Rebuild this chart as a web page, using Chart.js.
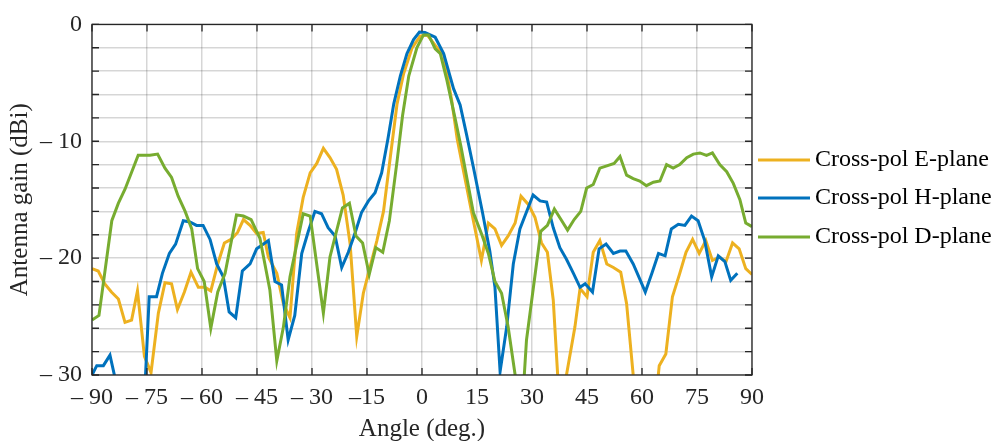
<!DOCTYPE html>
<html>
<head>
<meta charset="utf-8">
<script src="https://cdn.jsdelivr.net/npm/chart.js@4.4.1/dist/chart.umd.min.js"></script>
<style>
  body { margin: 0; background: #fff; }
  #wrap { width: 993px; height: 441px; }
</style>
</head>
<body>
<div id="wrap"><canvas id="myChart"></canvas></div>
<script>
// Cross-pol E-plane
eAng = [-90, -88.3, -86.5, -84.7, -82.8, -81.0, -79.2, -77.6, -75.7, -73.9, -71.9, -70.1, -68.3, -66.7, -64.8, -63.0, -61.0, -59.2, -57.6, -55.7,
    -53.9, -52.1, -50.3, -48.7, -46.9, -45.1, -43.3, -41.9, -39.6, -37.8, -36.0, -34.2, -32.4, -30.5, -28.7, -26.9, -25.1, -23.3, -21.5, -19.6,
    -17.8, -16.0, -14.2, -12.3, -10.5, -8.7, -6.8, -5.0, -2.7, -0.5, 1.4, 4.1, 5.9, 8.1, 9.6, 13.5, 16.2, 18.1, 19.9, 21.7,
    23.5, 25.4, 27.0, 29.0, 30.8, 32.6, 34.2, 35.8, 37.0, 38.2, 39.4, 41.7, 43.1, 45.0, 46.7, 48.5, 50.4, 52.2, 54.2, 55.8,
    57.6, 59.0, 63.5, 64.7, 66.5, 68.3, 70.3, 72.0, 73.8, 75.6, 77.4, 79.2, 81.1, 82.9, 84.7, 86.5, 88.3, 90];
eGain = [-20.9, -21.1, -22.2, -22.9, -23.5, -25.5, -25.3, -22.8, -28.4, -29.8, -24.7, -22.1, -22.2, -24.4, -22.9, -21.2, -22.5, -22.5, -22.8, -20.5,
    -18.7, -18.4, -17.8, -16.7, -17.2, -17.9, -17.8, -19.9, -21.3, -23.9, -25.1, -17.9, -14.8, -12.7, -11.9, -10.6, -11.4, -12.4, -14.6, -18.8,
    -26.7, -23.0, -20.8, -18.5, -16.0, -11.5, -6.8, -4.2, -2.0, -1.0, -0.9, -2.0, -2.6, -6.5, -9.8, -16.0, -20.2, -17.0, -17.5, -18.9,
    -18.1, -17.0, -14.7, -15.4, -16.5, -18.7, -19.5, -23.6, -30.0, -32.0, -30.0, -25.9, -22.6, -23.3, -19.5, -18.5, -20.5, -20.8, -21.2, -23.9,
    -30.0, -33.0, -33.0, -29.2, -28.2, -23.3, -21.3, -19.5, -18.4, -19.6, -18.5, -20.2, -19.9, -20.3, -18.7, -19.2, -20.9, -21.4];

// Cross-pol H-plane
hAng = [-90, -88.7, -86.9, -85.1, -83.9, -83.0, -76.0, -75.4, -74.4, -72.4, -70.8, -68.9, -67.2, -65.1, -63.3, -61.5, -59.7, -57.8, -56.0, -54.2,
    -52.6, -50.8, -49.0, -46.9, -45.1, -44.2, -41.9, -40.1, -38.3, -36.5, -34.7, -32.8, -31.0, -29.2, -27.4, -25.6, -23.7, -21.9, -20.1, -18.3,
    -16.5, -14.6, -12.8, -11.0, -9.3, -7.7, -5.9, -4.1, -2.3, -0.7, 0.8, 3.6, 5.9, 8.6, 10.4, 12.2, 14.0, 16.5, 18.5, 19.9,
    21.3, 23.1, 24.9, 26.7, 30.3, 32.2, 34.0, 35.8, 37.6, 39.4, 41.3, 43.1, 44.5, 46.5, 48.3, 50.2, 52.2, 54.0, 55.6, 57.6,
    59.4, 60.9, 62.7, 64.5, 66.3, 68.0, 69.9, 71.7, 73.5, 75.3, 77.1, 79.0, 80.8, 82.6, 84.2, 86.0];
hGain = [-30.0, -29.2, -29.2, -28.3, -30.0, -33.0, -33.0, -30.0, -23.3, -23.3, -21.3, -19.6, -18.8, -16.8, -16.9, -17.2, -17.2, -18.4, -20.5, -21.6,
    -24.6, -25.1, -21.1, -20.5, -19.2, -19.0, -18.5, -22.0, -22.3, -27.0, -24.9, -19.6, -17.7, -16.0, -16.2, -17.4, -18.1, -20.8, -19.5, -17.9,
    -16.1, -15.1, -14.4, -12.7, -9.8, -6.8, -4.4, -2.5, -1.3, -0.65, -0.7, -1.1, -2.5, -5.5, -6.9, -9.5, -12.2, -16.1, -19.4, -22.5,
    -29.7, -25.9, -20.5, -17.5, -14.6, -15.1, -15.2, -17.4, -19.1, -20.1, -21.3, -22.5, -22.2, -22.9, -19.2, -18.8, -19.6, -19.4, -19.4, -20.5,
    -21.8, -22.9, -21.3, -19.6, -19.8, -17.5, -17.1, -17.2, -16.4, -16.8, -18.5, -21.6, -19.8, -20.3, -21.9, -21.3];

// Cross-pol D-plane
dAng = [-90, -88.1, -84.6, -82.8, -81.0, -77.4, -74.2, -72.1, -70.1, -68.3, -66.5, -64.6, -62.8, -61.2, -59.4, -57.6, -55.7, -53.7, -50.6, -48.7,
    -46.6, -44.2, -41.5, -39.6, -37.8, -36.0, -32.4, -30.5, -26.9, -25.1, -21.7, -19.8, -18.0, -16.2, -14.4, -12.6, -10.7, -8.9, -6.8, -5.3,
    -3.6, -1.4, 0.4, 1.8, 3.6, 5.0, 6.8, 9.0, 10.6, 14.0, 16.2, 18.1, 19.9, 21.7, 23.5, 25.4, 26.6, 27.9, 28.5, 30.3,
    32.4, 34.2, 36.1, 37.9, 39.7, 41.5, 43.3, 44.9, 46.7, 48.5, 50.4, 52.4, 54.0, 55.8, 57.6, 59.4, 61.2, 63.1, 64.9, 66.7,
    68.5, 70.3, 72.2, 74.0, 75.8, 77.6, 79.2, 81.2, 83.1, 84.9, 86.7, 88.3, 90];
dGain = [-25.3, -24.9, -16.8, -15.3, -14.1, -11.2, -11.2, -11.1, -12.3, -13.1, -14.7, -16.0, -17.5, -20.9, -22.0, -26.0, -22.9, -21.3, -16.3, -16.4,
    -16.7, -18.3, -22.7, -28.8, -25.9, -21.6, -16.2, -16.4, -24.7, -19.9, -15.7, -15.3, -18.1, -18.7, -21.4, -19.1, -19.5, -16.8, -11.7, -7.8,
    -4.4, -2.0, -0.9, -0.9, -2.1, -2.5, -4.8, -8.0, -10.4, -16.1, -17.9, -19.6, -22.0, -23.0, -25.9, -30.0, -33.0, -30.0, -27.0, -22.7,
    -17.7, -17.2, -15.8, -16.7, -17.6, -16.7, -16.0, -14.0, -13.7, -12.3, -12.1, -11.9, -11.3, -12.9, -13.2, -13.4, -13.8, -13.5, -13.4, -12.0,
    -12.3, -12.0, -11.4, -11.1, -11.0, -11.2, -11.0, -12.0, -12.6, -13.6, -15.0, -17.0, -17.3];

labels_ls = ['Cross-pol E-plane', 'Cross-pol H-plane', 'Cross-pol D-plane'];
corlor_ls = ['#EDB120', '#0072BD', '#77AC30'];
xtick_ls = { '-90': '\u2013 90', '-75': '\u2013 75', '-60': '\u2013 60', '-45': '\u2013 45', '-30': '\u2013 30', '-15': '\u201315' };
ytick_ls = { '0': '0', '-10': '\u2013 10', '-20': '\u2013 20', '-30': '\u2013 30' };

function toXY(a, g) {
    return a.map((x, i) => ({ x: x, y: g[i] }));
}

var fontFam = "'Liberation Serif', 'Times New Roman', serif";
var txtColor = '#262626';

// box round the plot, inward ticks, legend at the right
var boxPlugin = {
    id: 'box',
    afterDraw(chart) {
        var ctx = chart.ctx, a = chart.chartArea;
        var xs = chart.scales.x, ys = chart.scales.y;
        ctx.save();
        ctx.strokeStyle = txtColor;
        ctx.lineWidth = 1.3;
        ctx.beginPath();
        xs.ticks.forEach(t => {
            var px = xs.getPixelForValue(t.value);
            ctx.moveTo(px, a.top); ctx.lineTo(px, a.top + 7);
            ctx.moveTo(px, a.bottom); ctx.lineTo(px, a.bottom - 7);
        });
        ys.ticks.forEach(t => {
            var py = ys.getPixelForValue(t.value);
            ctx.moveTo(a.left, py); ctx.lineTo(a.left + 7, py);
            ctx.moveTo(a.right, py); ctx.lineTo(a.right - 7, py);
        });
        ctx.stroke();
        ctx.strokeRect(a.left, a.top, a.right - a.left, a.bottom - a.top);

        // legend
        ctx.font = '24px ' + fontFam;
        ctx.textBaseline = 'middle';
        ctx.fillStyle = '#000';
        var ly = [160, 198, 237];
        for (let i = 0; i < labels_ls.length; i++) {
            ctx.strokeStyle = corlor_ls[i];
            ctx.lineWidth = 3;
            ctx.beginPath();
            ctx.moveTo(758, ly[i]); ctx.lineTo(810, ly[i]);
            ctx.stroke();
            ctx.fillText(labels_ls[i], 815, ly[i]);
        }
        ctx.restore();
    }
};

var gains = [eGain, hGain, dGain];
var angs = [eAng, hAng, dAng];
cutomdtaset = [];
for (let i = 0; i < 3; i++) {
    cutomdtaset.push({
        label: labels_ls[i],
        data: toXY(angs[i], gains[i]),
        borderColor: corlor_ls[i],
        backgroundColor: corlor_ls[i],
        borderWidth: 3,
        pointRadius: 0,
        tension: 0,
        order: 3 - i
    });
}

var canvas = document.getElementById('myChart');
var myChart = new Chart(canvas, {
    type: 'line',
    data: { datasets: cutomdtaset },
    options: {
        responsive: true,
        maintainAspectRatio: false,
        animation: false,
        layout: { padding: { top: 22, right: 241, left: 0, bottom: 0 } },
        plugins: { legend: { display: false }, tooltip: { enabled: false } },
        scales: {
            x: {
                type: 'linear',
                min: -90, max: 90,
                afterFit: s => { s.height = 66; },
                ticks: {
                    stepSize: 15,
                    maxRotation: 0,
                    autoSkip: false,
                    padding: 8,
                    color: txtColor,
                    font: { family: fontFam, size: 24 },
                    callback: v => (xtick_ls[String(v)] !== undefined ? xtick_ls[String(v)] : String(v))
                },
                grid: { color: 'rgba(0,0,0,0.16)', lineWidth: 1.5, drawTicks: false },
                border: { display: false },
                title: { display: true, text: 'Angle (deg.)', color: txtColor, font: { family: fontFam, size: 25 }, padding: { top: 0, bottom: -3 } }
            },
            y: {
                min: -30, max: 0,
                afterFit: s => { s.width = 92; },
                ticks: {
                    stepSize: 2,
                    autoSkip: false,
                    padding: 10,
                    color: txtColor,
                    font: { family: fontFam, size: 24 },
                    callback: v => (ytick_ls[String(v)] !== undefined ? ytick_ls[String(v)] : '')
                },
                grid: { color: 'rgba(0,0,0,0.16)', lineWidth: 1.5, drawTicks: false },
                border: { display: false },
                title: { display: true, text: 'Antenna gain (dBi)', color: txtColor, font: { family: fontFam, size: 25 }, padding: { top: 5, bottom: 0 } }
            }
        }
    },
    plugins: [boxPlugin]
});
</script>
</body>
</html>
